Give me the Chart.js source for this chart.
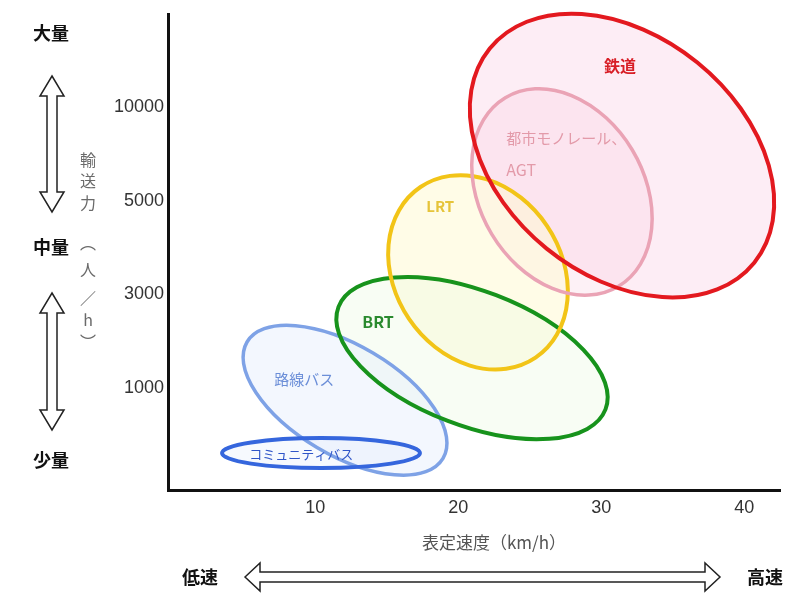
<!DOCTYPE html>
<html>
<head>
<meta charset="utf-8">
<script src="https://cdn.jsdelivr.net/npm/chart.js@4.4.1/dist/chart.umd.min.js"></script>
<style>
  html, body { margin: 0; padding: 0; background: #fff; }
  #wrap { width: 786px; height: 595px; }
</style>
</head>
<body>
<div id="wrap"><canvas id="chart" width="786" height="595"></canvas></div>
<script>
// transport modes
const modes = ['鉄道', '都市モノレール、AGT', 'LRT', 'BRT', '路線バス', 'コミュニティバス'];
// centre of each ellipse: schedule speed (km/h) and capacity (position on capacity axis, 1 = 1000 ... 4 = 10000)
const speedCentre = [31.45, 27.25, 21.38, 20.96, 12.08, 10.4];
const capacityCentre = [3.485, 3.096, 2.237, 1.32, 0.87, 0.305];
// half-extent of each ellipse along its own axes, and its tilt in degrees
const speedSpread = [11.9, 5.73, 5.82, 10.0, 7.97, 6.92];
const capacitySpread = [1.28, 1.175, 1.10, 0.72, 0.587, 0.16];
const tilt = [39, -31, -34, 21, 30.7, 0];
// where each name starts (speed, capacity)
const labelSpeed = [30.2, 23.36, 17.76, 13.29, 7.13, 5.38];
const labelCapacity = [4.44, 3.67, 2.94, 1.71, 1.09, 0.29];

const speedTicks = [10, 20, 30, 40];
const capacityTicks = ['1000', '3000', '5000', '10000'];

const modeStyle = [
  { stroke: '#e3191f', fill: 'rgba(250,214,232,0.45)', width: 4, text: '#d81e26', font: 'bold 16px' },
  { stroke: '#eaa3b5', fill: 'rgba(248,208,226,0.3)', width: 3.5, text: '#e39aa9', font: '15px' },
  { stroke: '#f2c417', fill: 'rgba(255,250,212,0.55)', width: 4, text: '#e6c43a', font: 'bold 15px' },
  { stroke: '#17931c', fill: 'rgba(238,250,228,0.4)', width: 4, text: '#2a8a2e', font: 'bold 16px' },
  { stroke: '#7ea2e6', fill: 'rgba(228,238,252,0.45)', width: 3.5, text: '#6c8fd8', font: '15px' },
  { stroke: '#3566dd', fill: 'rgba(228,238,252,0.35)', width: 4, text: '#2f55c8', font: '13px' }
];
const jp = "'Noto Sans CJK JP', 'Noto Sans', sans-serif";
const num = "'Liberation Sans Narrow', 'Liberation Sans', Arial, sans-serif";

function ellipseGeom(chart, i) {
  const { x, y } = chart.scales;
  const ux = Math.abs(x.getPixelForValue(1) - x.getPixelForValue(0));
  const uy = Math.abs(y.getPixelForValue(0) - y.getPixelForValue(1));
  return {
    cx: x.getPixelForValue(speedCentre[i]),
    cy: y.getPixelForValue(capacityCentre[i]),
    rx: speedSpread[i] * ux,
    ry: capacitySpread[i] * uy,
    rot: tilt[i] * Math.PI / 180
  };
}

const ellipsePlugin = {
  id: 'ellipses',
  beforeDatasetsDraw(chart) {
    const ctx = chart.ctx;
    ctx.save();
    modes.forEach((m, i) => {
      const g = ellipseGeom(chart, i);
      ctx.beginPath();
      ctx.ellipse(g.cx, g.cy, g.rx, g.ry, g.rot, 0, Math.PI * 2);
      ctx.fillStyle = modeStyle[i].fill;
      ctx.fill();
    });
    // outlines, smaller modes underneath
    [4, 5, 3, 2, 1, 0].forEach(i => {
      const g = ellipseGeom(chart, i);
      ctx.beginPath();
      ctx.ellipse(g.cx, g.cy, g.rx, g.ry, g.rot, 0, Math.PI * 2);
      ctx.strokeStyle = modeStyle[i].stroke;
      ctx.lineWidth = modeStyle[i].width;
      ctx.stroke();
    });
    ctx.restore();
  },
  afterDatasetsDraw(chart) {
    const { ctx, scales: { x, y } } = chart;
    ctx.save();
    ctx.textAlign = 'left';
    ctx.textBaseline = 'middle';
    modes.forEach((m, i) => {
      ctx.fillStyle = modeStyle[i].text;
      ctx.font = modeStyle[i].font + ' ' + jp;
      const px = x.getPixelForValue(labelSpeed[i]);
      const py = y.getPixelForValue(labelCapacity[i]);
      if (m === '都市モノレール、AGT') {
        ctx.fillText('都市モノレール、', px, py);
        ctx.font = '16px ' + jp;
        ctx.fillText('AGT', px, py + 32);
      } else {
        ctx.fillText(m, px, py);
      }
    });
    ctx.restore();
  }
};

function vArrow(ctx, cx, y1, y2) {
  const hw = 12, hh = 20, sw = 5;
  ctx.beginPath();
  ctx.moveTo(cx, y1);
  ctx.lineTo(cx + hw, y1 + hh); ctx.lineTo(cx + sw, y1 + hh);
  ctx.lineTo(cx + sw, y2 - hh); ctx.lineTo(cx + hw, y2 - hh);
  ctx.lineTo(cx, y2);
  ctx.lineTo(cx - hw, y2 - hh); ctx.lineTo(cx - sw, y2 - hh);
  ctx.lineTo(cx - sw, y1 + hh); ctx.lineTo(cx - hw, y1 + hh);
  ctx.closePath();
  ctx.fillStyle = '#fff';
  ctx.fill();
  ctx.stroke();
}

function hArrow(ctx, cy, x1, x2) {
  const hw = 14, hh = 15, sw = 5;
  ctx.beginPath();
  ctx.moveTo(x1, cy);
  ctx.lineTo(x1 + hh, cy - hw); ctx.lineTo(x1 + hh, cy - sw);
  ctx.lineTo(x2 - hh, cy - sw); ctx.lineTo(x2 - hh, cy - hw);
  ctx.lineTo(x2, cy);
  ctx.lineTo(x2 - hh, cy + hw); ctx.lineTo(x2 - hh, cy + sw);
  ctx.lineTo(x1 + hh, cy + sw); ctx.lineTo(x1 + hh, cy + hw);
  ctx.closePath();
  ctx.fillStyle = '#fff';
  ctx.fill();
  ctx.stroke();
}

const decorPlugin = {
  id: 'decor',
  afterDraw(chart) {
    const ctx = chart.ctx;
    ctx.save();
    ctx.textAlign = 'center';
    ctx.textBaseline = 'middle';
    ctx.fillStyle = '#111';
    ctx.font = 'bold 18px ' + jp;
    ctx.fillText('大量', 51, 33);
    ctx.fillText('中量', 51, 247);
    ctx.fillText('少量', 51, 460);
    ctx.fillText('低速', 200, 577);
    ctx.fillText('高速', 765, 577);

    ctx.strokeStyle = '#222';
    ctx.lineWidth = 1.5;
    vArrow(ctx, 52, 76, 212);
    vArrow(ctx, 52, 293, 430);
    hArrow(ctx, 577, 245, 720);

    // vertical axis title, characters stacked upright
    ctx.fillStyle = '#6a6a6a';
    ctx.font = '16px ' + jp;
    const title = ['輸', '送', '力', '︵', '人', '／', 'h', '︶'];
    const rows = [160, 181, 203, 243, 270, 298, 320, 342];
    title.forEach((c, k) => ctx.fillText(c, 88, rows[k]));

    ctx.font = '17px ' + jp;
    ctx.fillStyle = '#555';
    ctx.fillText('表定速度（km/h）', 494, 543);
    ctx.restore();
  }
};

new Chart(document.getElementById('chart'), {
  type: 'scatter',
  data: {
    datasets: [{
      data: modes.map((m, i) => ({ x: speedCentre[i], y: capacityCentre[i] })),
      pointRadius: 0,
      pointHoverRadius: 0
    }]
  },
  options: {
    responsive: false,
    animation: false,
    layout: { padding: { top: 14, right: 6, left: 0, bottom: 0 } },
    plugins: { legend: { display: false }, tooltip: { enabled: false } },
    scales: {
      x: {
        type: 'linear',
        min: -0.3,
        max: 42.5,
        grid: { display: false, drawTicks: false },
        border: { color: '#111', width: 3 },
        afterBuildTicks: s => { s.ticks = speedTicks.map(v => ({ value: v })); },
        afterFit: s => { s.height = 105; },
        ticks: {
          padding: 7,
          color: '#333',
          font: { family: num, size: 18 }
        }
      },
      y: {
        type: 'linear',
        min: -0.09,
        max: 4.99,
        grid: { display: false, drawTicks: false },
        border: { color: '#111', width: 3 },
        afterBuildTicks: s => { s.ticks = capacityTicks.map((t, k) => ({ value: k + 1 })); },
        afterFit: s => { s.width = 168; },
        ticks: {
          padding: 4,
          color: '#333',
          font: { family: num, size: 18 },
          callback: (v, idx) => capacityTicks[idx]
        }
      }
    }
  },
  plugins: [ellipsePlugin, decorPlugin]
});
</script>
</body>
</html>
